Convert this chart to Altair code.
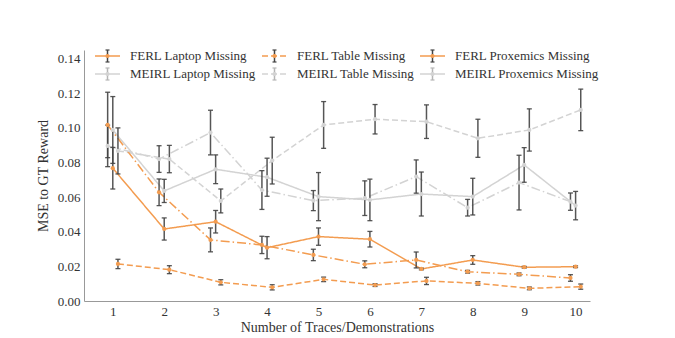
import altair as alt
import pandas as pd

# ---------------- data ----------------
n_traces = [1, 2, 3, 4, 5, 6, 7, 8, 9, 10]

ferl_laptop = [0.0767, 0.0416, 0.0458, 0.0308, 0.0372, 0.0357, 0.0185, 0.0237, 0.0195, 0.0198]
ferl_laptop_err = [0.0120, 0.0064, 0.0065, 0.0064, 0.0050, 0.0045, 0.0005, 0.0025, 0.0005, 0.0005]

ferl_table = [0.0214, 0.0181, 0.0108, 0.0079, 0.0125, 0.0092, 0.0116, 0.0102, 0.0073, 0.0083]
ferl_table_err = [0.0027, 0.0023, 0.0015, 0.0015, 0.0013, 0.0008, 0.0021, 0.0010, 0.0008, 0.0015]

ferl_prox = [0.1017, 0.0628, 0.0353, 0.0324, 0.0266, 0.0212, 0.0237, 0.0169, 0.0154, 0.0133]
ferl_prox_err = [0.0189, 0.0077, 0.0069, 0.0050, 0.0033, 0.0020, 0.0046, 0.0008, 0.0008, 0.0019]

meirl_laptop = [0.0988, 0.0636, 0.0761, 0.0715, 0.0603, 0.0584, 0.0618, 0.0603, 0.0786, 0.0551]
meirl_laptop_err = [0.0193, 0.0067, 0.0083, 0.0110, 0.0139, 0.0120, 0.0127, 0.0106, 0.0100, 0.0082]

meirl_table = [0.0867, 0.0820, 0.0578, 0.0811, 0.1017, 0.1050, 0.1036, 0.0940, 0.0988, 0.1104]
meirl_table_err = [0.0133, 0.0079, 0.0069, 0.0135, 0.0135, 0.0085, 0.0097, 0.0110, 0.0122, 0.0120]

meirl_prox = [0.0896, 0.0820, 0.0973, 0.0641, 0.0580, 0.0594, 0.0719, 0.0539, 0.0684, 0.0574]
meirl_prox_err = [0.0120, 0.0077, 0.0129, 0.0112, 0.0058, 0.0100, 0.0096, 0.0048, 0.0158, 0.0050]

y_ticks = [0.0, 0.02, 0.04, 0.06, 0.08, 0.10, 0.12, 0.14]

series_names = [
    "FERL Laptop Missing", "MEIRL Laptop Missing",
    "FERL Table Missing", "MEIRL Table Missing",
    "FERL Proxemics Missing", "MEIRL Proxemics Missing",
]
series_vals = [ferl_laptop, meirl_laptop, ferl_table, meirl_table, ferl_prox, meirl_prox]
series_errs = [ferl_laptop_err, meirl_laptop_err, ferl_table_err, meirl_table_err,
               ferl_prox_err, meirl_prox_err]

# ---------------- styles ----------------
ORANGE = "#F39C50"
LGRAY = "#D3D3D3"
EBAR = "#444444"
FONT = "Liberation Serif"
TEXT = "#333333"

kind_of = {"Laptop": "solid", "Table": "dashed", "Proxemics": "dashdot"}
offset_of = {"Laptop": 0.0, "Table": 0.1, "Proxemics": -0.1}
dash_domain = ["solid", "dashed", "dashdot"]
dash_range = [[1, 0], [6, 3], [9, 3, 1.5, 3]]

rows = []
for name, vals, errs in zip(series_names, series_vals, series_errs):
    key = name.split()[1]
    for x, v, e in zip(n_traces, vals, errs):
        rows.append({
            "series": name,
            "method": name.split()[0],
            "style": kind_of[key],
            "x": x + offset_of[key],
            "y": v,
            "lo": v - e,
            "hi": v + e,
        })
df = pd.DataFrame(rows)

xscale = alt.Scale(domain=[0.44, 10.28], nice=False, zero=False)
yscale = alt.Scale(domain=[0, 0.145], nice=False, zero=True)

common_axis = dict(grid=False, ticks=False, domainColor="#999999", labelOverlap=False,
                   labelFont=FONT, labelFontSize=13, labelColor=TEXT, labelPadding=4,
                   titleFont=FONT, titleFontSize=14, titleFontWeight="normal",
                   titleColor=TEXT)
xaxis = alt.Axis(values=n_traces, format="d", titlePadding=2, **common_axis)
yaxis = alt.Axis(values=y_ticks, format=".2f", titlePadding=7, **common_axis)
XT = "Number of Traces/Demonstrations"
YT = "MSE to GT Reward"

def X(f):
    return alt.X(f, scale=xscale, axis=xaxis, title=XT)

def Y(f):
    return alt.Y(f, scale=yscale, axis=yaxis, title=YT)

color = alt.Color("method:N", scale=alt.Scale(domain=["MEIRL", "FERL"], range=[LGRAY, ORANGE]), legend=None)
dash = alt.StrokeDash("style:N", scale=alt.Scale(domain=dash_domain, range=dash_range), legend=None)

base = alt.Chart(df)

lines = base.mark_line(strokeWidth=1.5).encode(
    x=X("x:Q"), y=Y("y:Q"),
    color=color, strokeDash=dash, detail="series:N", order=alt.Order("x:Q"),
)

ebar = base.mark_rule(color=EBAR, strokeWidth=1.5, opacity=0.9).encode(
    x=X("x:Q"), y=Y("lo:Q"), y2="hi:Q")
cap_lo = base.mark_tick(color=EBAR, orient="horizontal", size=5, thickness=1.3, opacity=0.9).encode(
    x=X("x:Q"), y=Y("lo:Q"))
cap_hi = base.mark_tick(color=EBAR, orient="horizontal", size=5, thickness=1.3, opacity=0.9).encode(
    x=X("x:Q"), y=Y("hi:Q"))

points = base.mark_point(filled=True, size=18, opacity=1).encode(
    x=X("x:Q"), y=Y("y:Q"), color=color)

# ---------------- hand-made legend (3 columns x 2 rows) ----------------
col_start = [11, 178, 336]   # handle start, px from plot left
row_y = [6, 24]              # px from plot top
leg_rows = []
for i, name in enumerate(series_names):
    c, r = i // 2, i % 2
    x0 = col_start[c]
    leg_rows.append({
        "series": name,
        "method": name.split()[0],
        "style": "dashed" if "Table" in name else "solid",
        "x0": x0, "x1": x0 + 25, "xm": x0 + 12.5, "xt": x0 + 35,
        "xc0": x0 + 10.5, "xc1": x0 + 14.5,
        "y": row_y[r], "ylo": row_y[r] - 6, "yhi": row_y[r] + 6,
        "bar": EBAR if name.startswith("FERL") else "#B5B5B5",
    })
ldf = pd.DataFrame(leg_rows)
lbase = alt.Chart(ldf)
px = lambda f: alt.X(f, scale=None, axis=None)
py = lambda f: alt.Y(f, scale=None, axis=None)

leg_line = lbase.mark_rule(strokeWidth=1.5).encode(
    x=px("x0:Q"), x2="x1:Q", y=py("y:Q"), color=color, strokeDash=dash)
leg_bar = lbase.mark_rule(strokeWidth=1.5).encode(
    x=px("xm:Q"), y=py("ylo:Q"), y2="yhi:Q", color=alt.Color("bar:N", scale=None))
leg_cap1 = lbase.mark_rule(strokeWidth=1.2).encode(
    x=px("xc0:Q"), x2="xc1:Q", y=py("ylo:Q"), color=alt.Color("bar:N", scale=None))
leg_cap2 = lbase.mark_rule(strokeWidth=1.2).encode(
    x=px("xc0:Q"), x2="xc1:Q", y=py("yhi:Q"), color=alt.Color("bar:N", scale=None))
leg_pt = lbase.mark_point(filled=True, size=18, opacity=1).encode(
    x=px("xm:Q"), y=py("y:Q"), color=color)
leg_txt = lbase.mark_text(align="left", baseline="middle", font=FONT, fontSize=13,
                          color=TEXT).encode(x=px("xt:Q"), y=py("y:Q"), text="series:N")

chart = alt.layer(
    lines, ebar, cap_lo, cap_hi, points,
    leg_line, leg_bar, leg_cap1, leg_cap2, leg_pt, leg_txt,
).properties(
    width=506, height=251,
    autosize="none",
    background="white",
    padding={"left": 76, "top": 42, "right": 77, "bottom": 37},
).configure_view(strokeWidth=0)

chart.save("out.html", embed_options={"renderer": "svg", "actions": False})
